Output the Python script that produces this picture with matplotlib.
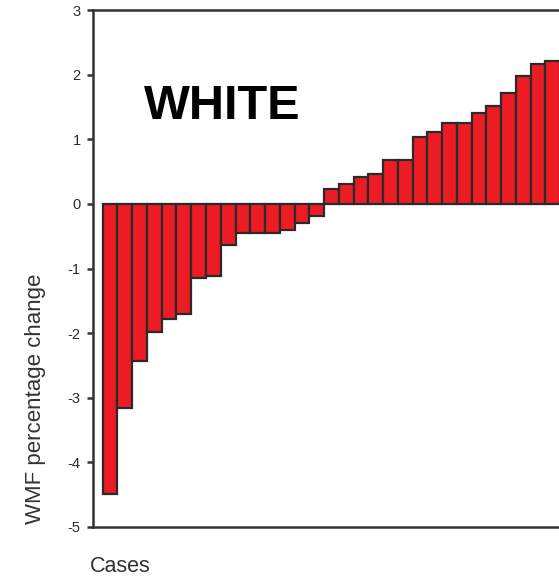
import matplotlib
matplotlib.use("Agg")
import matplotlib.pyplot as plt
import numpy as np

# WMF percentage change per case, sorted ascending
wmf_change = [
    -4.49, -3.16, -2.43, -1.98, -1.78, -1.71, -1.14, -1.11, -0.64, -0.45,
    -0.45, -0.45, -0.41, -0.30, -0.18,
    0.23, 0.31, 0.42, 0.46, 0.68, 0.68, 1.03, 1.11, 1.25, 1.25,
    1.41, 1.52, 1.71, 1.98, 2.17, 2.21,
]
y_ticks = [-5, -4, -3, -2, -1, 0, 1, 2, 3]
panel_title = "WHITE"
y_label = "WMF percentage change"
x_label = "Cases"

plt.rcParams["font.family"] = ["Liberation Sans", "DejaVu Sans"]

W, H = 559, 579
fig = plt.figure(figsize=(W / 100, H / 100), dpi=100)

left_px, top_px, bottom_px, right_px = 93, 10, 527, 567.6
ax = fig.add_axes([left_px / W, 1 - bottom_px / H,
                   (right_px - left_px) / W, (bottom_px - top_px) / H])

x = np.arange(len(wmf_change))
ax.bar(x, wmf_change, width=1.0, color="#ED1C24", edgecolor="#2a2a2a",
       linewidth=1.6, zorder=3)

ax.set_xlim(-1.157, 31.0)
ax.set_ylim(-5, 3)
ax.set_yticks(y_ticks)
ax.set_yticklabels([str(t) for t in y_ticks])
ax.set_xticks([])

for side in ("left", "top", "bottom", "right"):
    ax.spines[side].set_linewidth(1.8)
    ax.spines[side].set_color("#333333")

ax.tick_params(axis="y", direction="out", length=4, width=1.8,
               color="#333333", labelsize=10.5, labelcolor="#2a2a2a", pad=5)

fig.text(222.5 / W, 1 - 119 / H, panel_title, ha="center", va="baseline",
         fontsize=35, fontweight="bold", color="black")
fig.text(35.5 / W, 1 - 399 / H, y_label, rotation=90, ha="center",
         va="center", fontsize=16, color="#333333")
fig.text(90 / W, 1 - 572 / H, x_label, ha="left", va="baseline",
         fontsize=15.5, color="#333333")

fig.savefig("out.png", dpi=100)
